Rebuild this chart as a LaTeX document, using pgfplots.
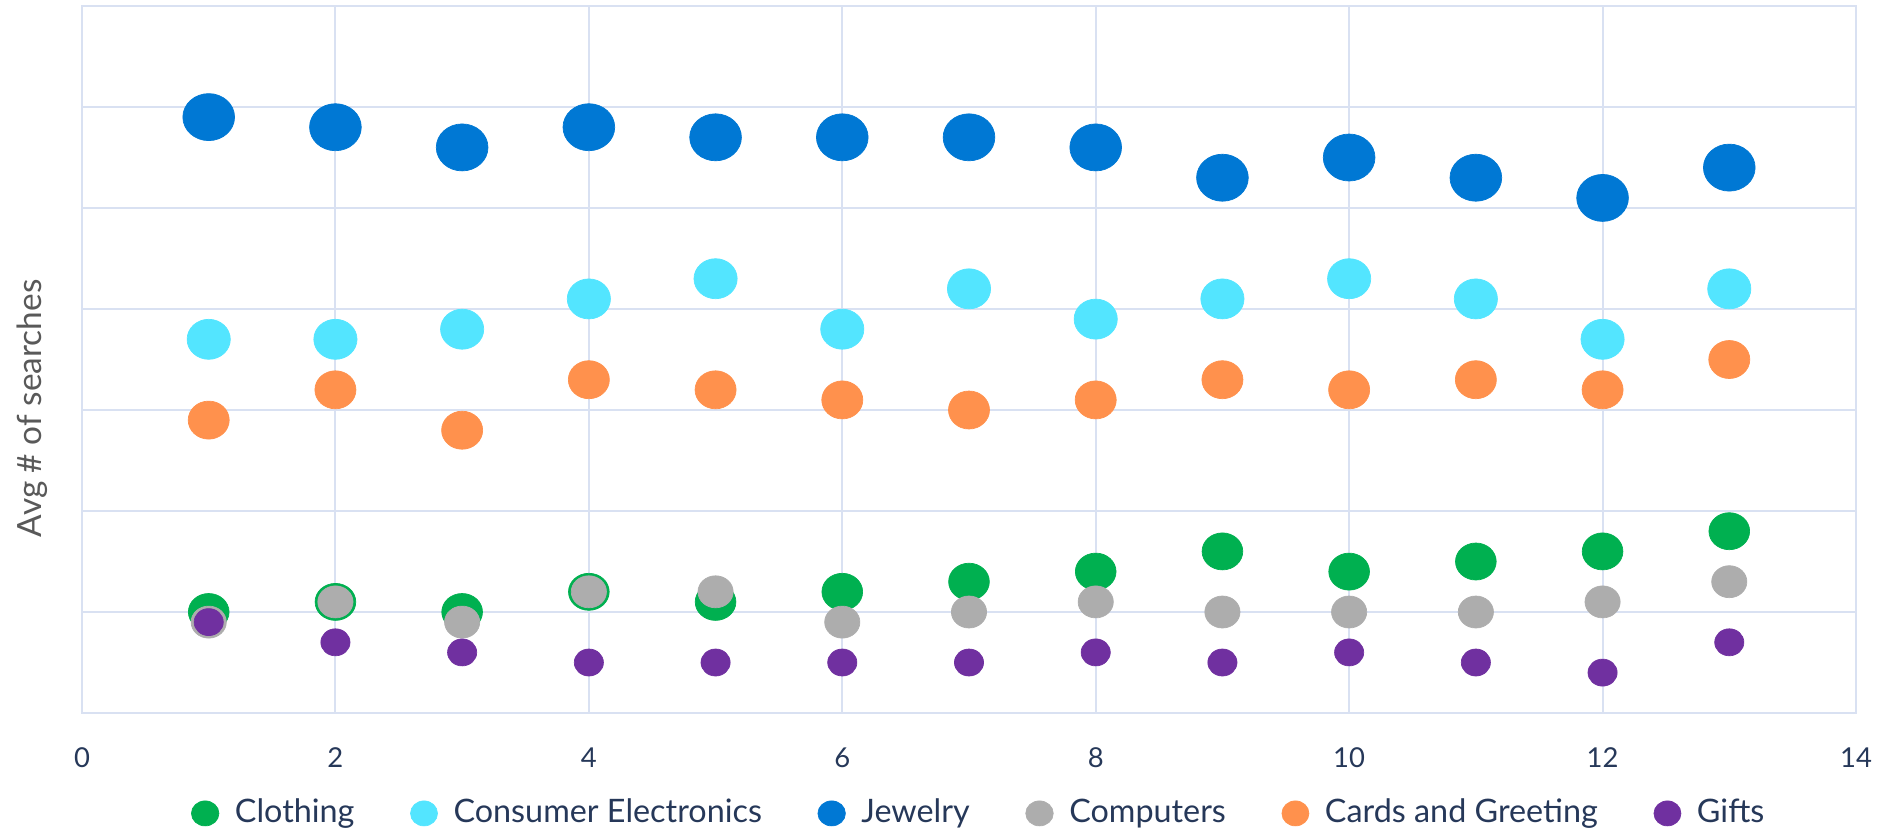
\documentclass[border=0pt]{standalone}
\usepackage{fontspec}
\setmainfont{Lato}
\usepackage{pgfplots}
\pgfplotsset{compat=1.18}

\definecolor{gridc}{HTML}{D9E1F2}
\definecolor{tickc}{HTML}{263859}
\definecolor{labc}{HTML}{595959}
\definecolor{cloth}{HTML}{00B050}
\definecolor{elec}{HTML}{53E5FF}
\definecolor{jewel}{HTML}{0078D4}
\definecolor{comp}{HTML}{ADADAD}
\definecolor{cards}{HTML}{FF914D}
\definecolor{gifts}{HTML}{7030A0}

\pgfplotsset{
  dotlegend/.style={legend image code/.code={\draw[#1, mark size=0.125cm] plot coordinates {(0cm,0cm)};}},
  dot/.style n args={3}{color=#1, mark=*, mark size=#2,
    mark options={fill=#1, draw=#1, line width=0.2pt, xscale=#3}},
}

\begin{document}
\begin{tikzpicture}
\begin{axis}[
  at={(0,0)}, anchor=south west,
  scale only axis, width=17.74cm, height=7.07cm,
  xmin=0, xmax=14, ymin=0, ymax=70,
  xtick={0,2,...,14},
  ytick={10,20,...,60}, yticklabels={},
  grid=major, major grid style={color=gridc, line width=0.6pt},
  axis line style={color=gridc, line width=0.6pt},
  major tick length=0pt,
  /pgf/number format/assume math mode=true,
  tick label style={font=\fontsize{7.8}{9}\selectfont, text=tickc},
  xticklabel style={anchor=center, yshift=-0.45cm},
  ylabel={Avg \# of searches},
  ylabel style={at={(axis description cs:-0.028,0.431)}, anchor=center,
    font=\fontsize{9.5}{11}\selectfont, text=labc},
  legend columns=6,
  legend cell align=left,
  legend style={draw=none, fill=none, at={(0.507,-0.142)}, anchor=center,
    font=\fontsize{9.2}{11}\selectfont, text=tickc,
    /tikz/every odd column/.append style={column sep=0.09cm},
    /tikz/every even column/.append style={column sep=0.49cm}},
  dotlegend,
  only marks,
]
% Clothing
\addplot[dot={cloth}{0.185cm}{1.1}]
  coordinates {(1,10) (2,11) (3,10) (4,12) (5,11) (6,12) (7,13) (8,14) (9,16) (10,14) (11,15) (12,16) (13,18)};
\addlegendentry{Clothing}
% Consumer Electronics
\addplot[dot={elec}{0.20cm}{1.08}]
  coordinates {(1,37) (2,37) (3,38) (4,41) (5,43) (6,38) (7,42) (8,39) (9,41) (10,43) (11,41) (12,37) (13,42)};
\addlegendentry{Consumer Electronics}
% Jewelry
\addplot[dot={jewel}{0.235cm}{1.1}]
  coordinates {(1,59) (2,58) (3,56) (4,58) (5,57) (6,57) (7,57) (8,56) (9,53) (10,55) (11,53) (12,51) (13,54)};
\addlegendentry{Jewelry}
% Computers
\addplot[dot={comp}{0.16cm}{1.1}]
  coordinates {(1,9) (2,11) (3,9) (4,12) (5,12) (6,9) (7,10) (8,11) (9,10) (10,10) (11,10) (12,11) (13,13)};
\addlegendentry{Computers}
% Cards and Greeting
\addplot[dot={cards}{0.19cm}{1.08}]
  coordinates {(1,29) (2,32) (3,28) (4,33) (5,32) (6,31) (7,30) (8,31) (9,33) (10,32) (11,33) (12,32) (13,35)};
\addlegendentry{Cards and Greeting}
% Gifts
\addplot[dot={gifts}{0.135cm}{1.08}]
  coordinates {(1,9) (2,7) (3,6) (4,5) (5,5) (6,5) (7,5) (8,6) (9,5) (10,6) (11,5) (12,4) (13,7)};
\addlegendentry{Gifts}
\end{axis}
\pgfresetboundingbox
\path[use as bounding box] (-0.82,-1.23) rectangle (17.99,7.13);
\end{tikzpicture}
\end{document}
